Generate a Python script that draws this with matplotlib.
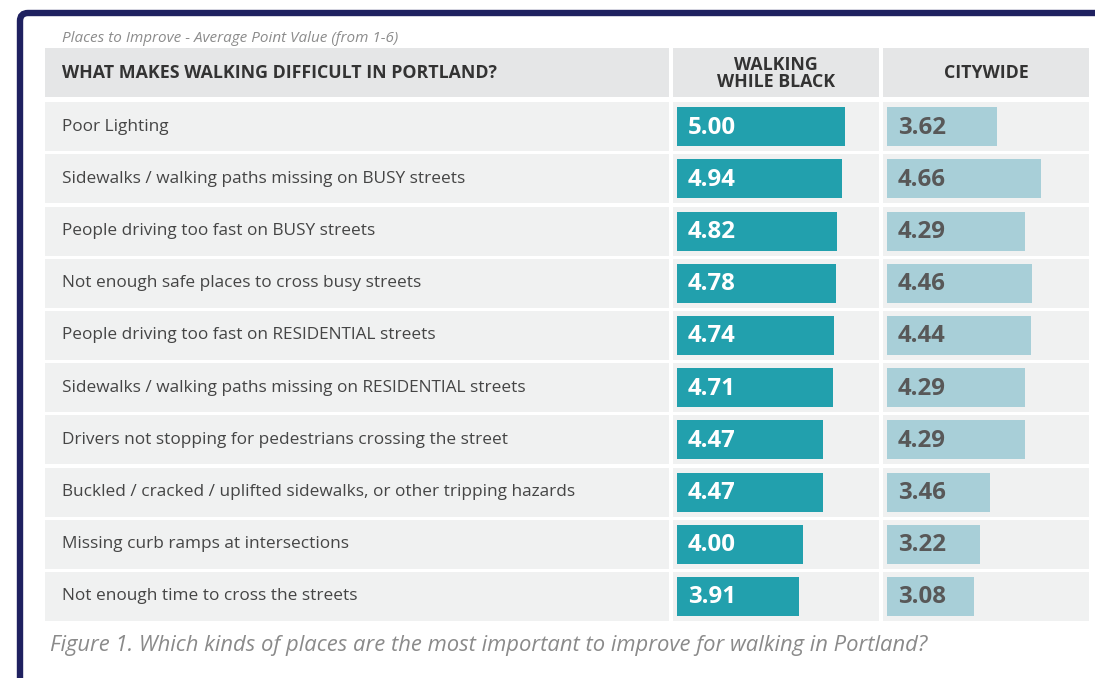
import numpy as np
import matplotlib
matplotlib.use("Agg")
import matplotlib.pyplot as plt
from matplotlib.patches import FancyBboxPatch, Rectangle

plt.rcParams['font.family'] = ['Open Sans', 'DejaVu Sans']

# survey results, average point value on a 1-6 scale
issues = [
    "Poor Lighting",
    "Sidewalks / walking paths missing on BUSY streets",
    "People driving too fast on BUSY streets",
    "Not enough safe places to cross busy streets",
    "People driving too fast on RESIDENTIAL streets",
    "Sidewalks / walking paths missing on RESIDENTIAL streets",
    "Drivers not stopping for pedestrians crossing the street",
    "Buckled / cracked / uplifted sidewalks, or other tripping hazards",
    "Missing curb ramps at intersections",
    "Not enough time to cross the streets",
]
walking_while_black = [5.00, 4.94, 4.82, 4.78, 4.74, 4.71, 4.47, 4.47, 4.00, 3.91]
citywide = [3.62, 4.66, 4.29, 4.46, 4.44, 4.29, 4.29, 3.46, 3.22, 3.08]
col_titles = ["WHAT MAKES WALKING DIFFICULT IN PORTLAND?", "WALKING\nWHILE BLACK", "CITYWIDE"]
subtitle = "Places to Improve - Average Point Value (from 1-6)"
caption = "Figure 1. Which kinds of places are the most important to improve for walking in Portland?"
scale_min = 1

TEAL = "#22a0ad"
LIGHT = "#a8cfd8"
ROW_BG = "#f0f1f1"
HEAD_BG = "#e5e6e7"
NAVY = "#1f2160"

W, H = 1095, 678
fig = plt.figure(figsize=(W / 100, H / 100), dpi=100)

# page layer in pixel units for the frame, header cells and captions
bg = fig.add_axes([0, 0, 1, 1])
bg.set_xlim(0, W)
bg.set_ylim(H, 0)
bg.axis("off")
bg.add_patch(FancyBboxPatch((20, 13), W + 40, H + 40,
                            boxstyle="round,pad=0,rounding_size=8",
                            fc="white", ec=NAVY, lw=4.6))

cols = [(45, 669), (673, 879), (883, 1089)]
head_top, head_bot = 48, 97
for (x0, x1) in cols:
    bg.add_patch(Rectangle((x0, head_top), x1 - x0, head_bot - head_top,
                           fc=HEAD_BG, ec="none"))
bg.text(62, (head_top + head_bot) / 2 + 1, col_titles[0], ha="left", va="center",
        fontsize=12.8, fontweight="bold", color="#333333")
for (x0, x1), t in zip(cols[1:], col_titles[1:]):
    bg.text((x0 + x1) / 2, (head_top + head_bot) / 2 + 1, t, ha="center", va="center",
            fontsize=12.8, fontweight="bold", color="#333333", linespacing=0.9)

bg.text(62, 38, subtitle, ha="left", va="center", fontsize=11,
        style="italic", color="#8c8c8c")
bg.text(50, 645, caption, ha="left", va="center", fontsize=15.8,
        style="italic", color="#8a8a8a")

# table body
n = len(issues)
pitch = 52.2
top = 100.5
bottom = top + n * pitch
px_per_unit = 42.0
ypos = np.arange(n)
row_h = 49 / pitch
bar_h = 39 / pitch


def column_axes(x0, x1):
    ax = fig.add_axes([x0 / W, 1 - bottom / H, (x1 - x0) / W, (bottom - top) / H])
    ax.set_ylim(n - 0.5, -0.5)
    ax.axis("off")
    return ax


ax_lab = column_axes(*cols[0])
ax_lab.set_xlim(0, cols[0][1] - cols[0][0])
ax_lab.barh(ypos, cols[0][1] - cols[0][0], height=row_h, left=0, color=ROW_BG)
for i, label in enumerate(issues):
    ax_lab.text(17, i, label, ha="left", va="center", fontsize=12.4, color="#454545")

series = [(walking_while_black, TEAL, "white"), (citywide, LIGHT, "#585858")]
for (x0, x1), (vals, color, tcolor) in zip(cols[1:], series):
    ax = column_axes(x0, x1)
    lo = scale_min - 4 / px_per_unit
    hi = lo + (x1 - x0) / px_per_unit
    ax.set_xlim(lo, hi)
    ax.barh(ypos, hi - lo, left=lo, height=row_h, color=ROW_BG)
    vals = np.array(vals)
    ax.barh(ypos, vals - scale_min, left=scale_min, height=bar_h, color=color)
    for i, v in enumerate(vals):
        ax.text(scale_min + 11 / px_per_unit, i + 0.02, f"{v:.2f}", ha="left", va="center",
                fontsize=17.3, fontweight="bold", color=tcolor)

fig.savefig("out.png", dpi=100)
